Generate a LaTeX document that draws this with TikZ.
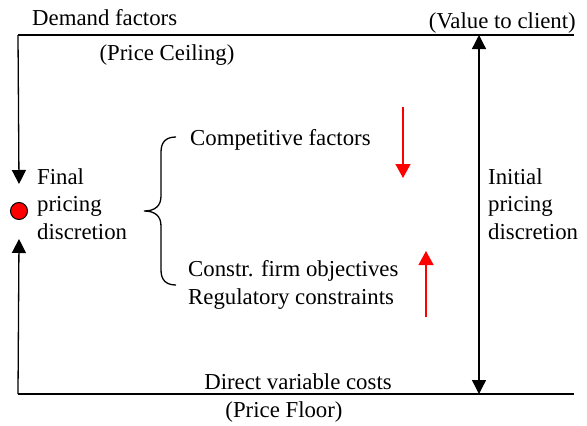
\documentclass[tikz,border=0pt]{standalone}
\usepackage{fontspec}
\setmainfont{Liberation Serif}
\usetikzlibrary{arrows.meta}
\begin{document}
\begin{tikzpicture}[x=1pt,y=-1pt,
  lbl/.style={inner sep=0pt, font=\fontsize{22.8}{27.5}\selectfont},
  edge/.style={line width=1.3pt},
  blk/.style={edge, -{Triangle[length=14pt,width=14pt]}},
  redarr/.style={line width=1.3pt, red, -{Triangle[length=14pt,width=15pt]}}]
\useasboundingbox (0,0) rectangle (587,426);
% frame corners
\coordinate (tl) at (18,35);
\coordinate (tr) at (574,35);
\coordinate (bl) at (18,394);
\coordinate (br) at (574,394);
\draw[edge] (tl) -- (tr);
\draw[edge] (bl) -- (br);
% final pricing discretion marker
\node[circle, draw, fill=red, line width=1pt, minimum size=17pt, inner sep=0pt] (dot) at (19,211) {};
\coordinate (downtip) at (19,184);
\coordinate (uptip) at (19,239);
\draw[blk] (tl) -- (downtip);
\draw[blk] (bl) -- (uptip);
% initial pricing discretion span
\coordinate (spanT) at (479,35);
\coordinate (spanB) at (479,394);
\draw[edge, {Triangle[length=14pt,width=14pt]}-{Triangle[length=14pt,width=14pt]}] (spanT) -- (spanB);
% labels
\node[lbl, anchor=base west] (demand) at (32,25) {Demand factors};
\node[lbl, anchor=base] (ceiling) at (167,60) {(Price Ceiling)};
\node[lbl, anchor=base east] (value) at (576,28) {(Value to client)};
\node[lbl, anchor=base] (costs) at (298,389) {Direct variable costs};
\node[lbl, anchor=base] (floor) at (284,417) {(Price Floor)};
\node[lbl, anchor=north west, align=left] (final) at (37,168) {Final\\pricing\\discretion};
\node[lbl, anchor=north west, align=left] (initial) at (488,168) {Initial\\pricing\\discretion};
\node[lbl, anchor=base west] (comp) at (190,145) {Competitive factors};
\node[lbl, anchor=base west, align=left] (constr) at (188,276) {Constr. firm objectives};
\node[lbl, anchor=base west] (reg) at (188,304) {Regulatory constraints};
% brace grouping the factors
\draw[line width=1.3pt] (176,137) .. controls (166,137) and (161,142) .. (161,152) -- (161,196)
  .. controls (161,206) and (155,211) .. (144,211)
  .. controls (155,211) and (161,216) .. (161,226) -- (161,270)
  .. controls (161,280) and (166,285) .. (176,285);
% direction of pressure
\coordinate (rdS) at (403,107);
\coordinate (rdE) at (403,178);
\coordinate (ruS) at (426,317);
\coordinate (ruE) at (426,251);
\draw[redarr] (rdS) -- (rdE);
\draw[redarr] (ruS) -- (ruE);
\end{tikzpicture}
\end{document}
